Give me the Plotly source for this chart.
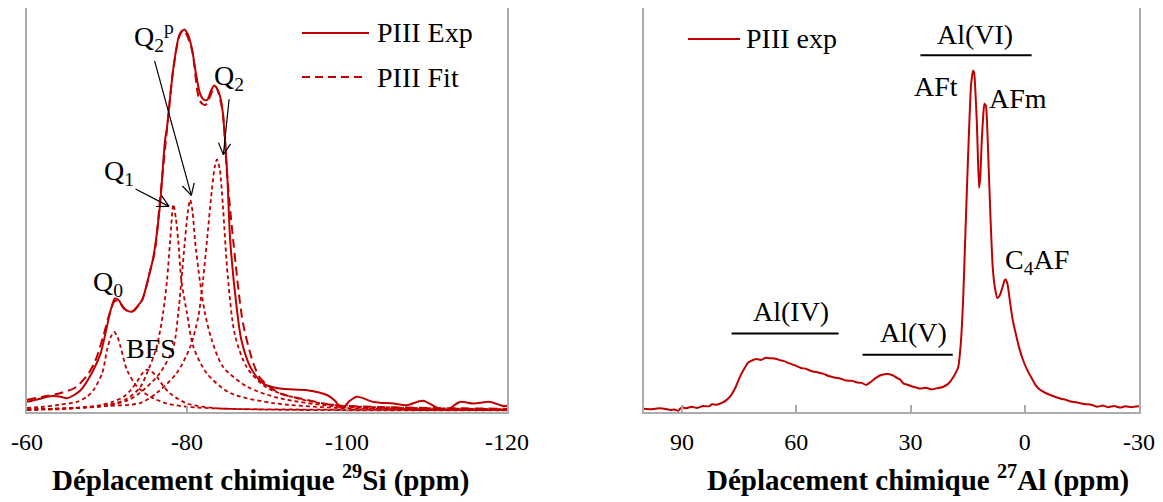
import math
import plotly.graph_objects as go

# ---------------- Data: 29Si (left) ----------------
si_exp_ppm = [-60, -61.5, -62.9, -64.2, -65, -66.7, -68.3, -69.2, -69.8, -70.5, -71.0, -71.5, -72.1, -73.1,
              -74.1, -74.4, -75.4, -75.8, -76.6, -77.25, -77.5, -78.3, -79.1, -79.7, -80.1, -80.6, -81.1, -81.6,
              -82.0, -82.5, -83.0, -83.4, -84.0, -84.4, -85.0, -85.4, -86.2, -86.8, -87.9, -89.5, -91.6, -95.0,
              -97.5, -98.5, -99.1, -99.5, -100.2, -101.2, -103.3, -105.8, -107.5, -109.5, -111.2, -112.5,
              -114.1, -115.8, -117.9, -119.5, -120]
si_exp_int = [2.5, 3.2, 3.9, 3.8, 3.4, 5.4, 10.4, 14.5, 19.4, 25.5, 28.1, 27.6, 25.6, 24.8,
              26.9, 27.7, 35.0, 38.4, 50.7, 67.2, 70.4, 85.2, 93.6, 94.7, 93.5, 90.1, 84.0, 79.0,
              77.5, 77.2, 79.5, 80.8, 79.0, 75.3, 60.0, 42.5, 26.0, 17.8, 11.2, 7.1, 5.8, 5.4,
              4.2, 2.8, 1.3, 1.0, 2.5, 3.8, 2.5, 2.1, 1.7, 2.8, 1.1, 0.5,
              2.5, 2.1, 2.5, 1.5, 1.5]

si_fit_ppm = [-60, -62, -64, -66, -67.5, -68.5, -69.5, -70.5, -71, -71.6, -72.5, -73.3, -74.4, -75.4, -76,
              -76.6, -77.5, -78.3, -79.1, -79.6, -80.6, -81.6, -82.3, -83.3, -83.6, -84.4, -85, -85.8, -87,
              -88.3, -89.1, -90, -91.6, -95, -98.3, -103, -110, -120]
si_fit_int = [3.0, 3.8, 4.6, 6.0, 9.0, 12.5, 18.5, 25.5, 27.5, 27.0, 25.0, 25.0, 27.8, 35.0, 40.0,
              52.0, 70.0, 85.0, 93.3, 94.5, 89.8, 77.0, 76.0, 80.0, 80.5, 75.0, 59.0, 42.0, 22.0,
              12.0, 8.5, 6.8, 4.6, 3.0, 1.7, 1.3, 1.0, 0.8]

q0_ppm = [-60, -62.1, -64, -66.25, -67.5, -68.3, -69.4, -70, -70.5, -70.9, -71.3, -71.7, -72.5, -73.75,
          -75.4, -77.5, -80, -85, -95, -108, -120]
q0_int = [1.0, 1.3, 1.8, 2.5, 3.8, 5.4, 9.6, 15.3, 18.7, 19.8, 18.6, 16.1, 10.4, 6.3,
          3.8, 2.1, 1.3, 0.8, 0.6, 0.5, 0.5]

bfs_ppm = [-60, -64.2, -67, -69.2, -70.7, -72.1, -73.0, -73.75, -74.4, -75.0, -75.6, -76.25, -77.0, -77.9,
           -80, -83.3, -90, -105, -120]
bfs_int = [0.5, 0.7, 1.1, 1.7, 2.5, 3.8, 5.5, 7.5, 9.5, 10.5, 10.0, 8.7, 6.5, 4.6,
           2.1, 1.0, 0.6, 0.4, 0.4]

q1_ppm = [-60, -66, -70, -72.5, -74.1, -75, -76.2, -77.0, -77.5, -77.9, -78.3, -78.6, -78.9, -79.3, -80,
          -80.8, -82.5, -85.4, -90.8, -99, -110, -120]
q1_int = [0.6, 1.0, 1.6, 3.3, 6.0, 9.6, 16.1, 24.4, 32.6, 42.5, 51.4, 48.0, 42.5, 32.6, 24.4,
          16.1, 9.5, 4.7, 2.2, 1.0, 0.7, 0.6]

q2p_ppm = [-60, -66, -70, -72.5, -74.1, -76.6, -78.3, -78.9, -79.3, -79.75, -80.1, -80.4, -80.7, -81.0,
           -81.6, -82.25, -83.1, -84.5, -87.5, -91.6, -99.1, -110, -120]
q2p_int = [0.6, 1.0, 1.7, 2.8, 4.7, 9.6, 16.1, 24.4, 32.6, 42.5, 49.5, 52.5, 49.5, 42.5,
           32.6, 24.4, 17.8, 11.2, 6.3, 3.4, 1.3, 0.8, 0.6]

q2_ppm = [-60, -66, -70, -74.1, -76.2, -78.7, -80.4, -81.4, -82.0, -82.5, -83.1, -83.5, -83.75, -84.1,
          -84.5, -85.1, -86, -87.5, -90, -95, -99.1, -108, -120]
q2_int = [0.6, 1.0, 1.5, 2.2, 4.7, 9.6, 16.1, 23.5, 32.6, 42.5, 54.8, 61.0, 62.5, 60.0,
          50.6, 33.5, 19.0, 11.0, 6.0, 2.8, 1.6, 1.0, 0.7]

si_ticks = [-60, -80, -100, -120]
si_tick_labels = ["-60", "-80", "-100", "-120"]

# ---------------- Data: 27Al (right) ----------------
al_ppm = [100, 98, 96, 94.6, 93, 92, 91, 90.1, 89, 87.5, 86, 84.5, 83, 82.1, 81, 79.4, 78.3, 77.1, 76,
          74.9, 73.8, 72.7, 71.5, 70.4, 69.3, 68, 66.8, 65.5, 64.2, 63.2, 62, 60.5, 58.8, 57.5, 56, 54.3,
          53, 51.5, 49.8, 48.5, 47, 45.3, 44, 42.8, 41.7, 40.5, 39.0, 37.5, 35.9, 34.5, 33.5, 32.8, 31.8,
          31, 29.5, 28.3, 27.4, 26, 24.5, 22.9, 21.5, 20.5, 19.8, 18.8, 17.5, 16.8, 16.2, 15.6, 15.0,
          14.5, 14.1, 13.6, 13.3, 13.0, 12.6, 12.3, 12.0, 11.7, 11.3, 10.9, 10.6, 10.2, 9.8, 9.5, 9.0,
          8.4, 7.8, 7.2, 6.5, 5.9, 5.3, 5.0, 4.5, 3.9, 3.2, 2.3, 1.5, 0.5, -0.6, -1.8, -2.9, -4.0, -5.5,
          -7.6, -9.5, -10.8, -12.1, -13.5, -15.5, -17.5, -19, -20.5, -21.9, -23.5, -25, -26.4, -28, -30]
al_int = [0.8, 0.7, 0.9, 0.8, 0.5, 0.6, 0.3, 1.2, 0.9, 1.3, 1.0, 1.5, 1.4, 1.9, 1.8, 2.3, 3.0, 4.2, 6.0,
          8.5, 10.5, 12.2, 12.8, 13.1, 12.9, 13.4, 13.3, 13.2, 12.8, 12.6, 12.1, 11.6, 10.9, 10.7, 10.1, 9.8,
          9.5, 8.9, 8.5, 8.3, 7.8, 7.7, 7.3, 7.2, 6.7, 7.4, 8.5, 9.2, 9.4, 9.0, 8.4, 8.1, 7.0,
          6.8, 6.3, 6.0, 5.8, 6.0, 5.6, 5.9, 6.2, 6.7, 7.3, 8.6, 11.0, 17.0, 27.4, 44.0, 60.4,
          73.0, 81.0, 84.5, 84.0, 80.0, 72.0, 63.0, 55.5, 58.0, 67.0, 73.5, 76.3, 75.8, 69.0, 61.0, 48.0,
          35.6, 30.5, 28.2, 29.0, 30.7, 32.6, 32.8, 31.5, 27.4, 23.0, 19.1, 16.0, 13.0, 10.5, 8.4, 6.6, 5.5, 4.7,
          3.9, 3.3, 3.0, 2.6, 2.4, 2.0, 1.8, 1.3, 1.6, 1.2, 1.5, 1.1, 1.4, 1.2, 1.4]

al_ticks = [90, 60, 30, 0, -30]
al_tick_labels = ["90", "60", "30", "0", "-30"]

# ---------------- Styling ----------------
RED = "#C00000"
GRID = "#ababab"
FONT = "Liberation Serif"
OFF = 8                      # browser body margin
W, H = 1163 - OFF, 502 - OFF

def px(x):
    return (x - OFF) / W

def py(y):
    return min(1.0, (H - (y - OFF)) / H)

fig = go.Figure()

comp_dash = "4px,3px"
for xs, ys in [(q0_ppm, q0_int), (bfs_ppm, bfs_int), (q1_ppm, q1_int), (q2p_ppm, q2p_int), (q2_ppm, q2_int)]:
    fig.add_trace(go.Scatter(x=xs, y=ys, mode="lines", xaxis="x", yaxis="y",
                             line=dict(color=RED, width=1.8, dash=comp_dash, shape="spline", smoothing=0.8),
                             showlegend=False, hoverinfo="skip"))
fig.add_trace(go.Scatter(x=si_fit_ppm, y=si_fit_int, mode="lines", xaxis="x", yaxis="y",
                         line=dict(color=RED, width=2, dash="9px,5px", shape="spline", smoothing=0.8),
                         showlegend=False))
fig.add_trace(go.Scatter(x=si_exp_ppm, y=si_exp_int, mode="lines", xaxis="x", yaxis="y",
                         line=dict(color=RED, width=2, shape="spline", smoothing=0.8),
                         showlegend=False))
fig.add_trace(go.Scatter(x=al_ppm, y=al_int, mode="lines", xaxis="x2", yaxis="y2",
                         line=dict(color=RED, width=2, shape="spline", smoothing=0.5),
                         showlegend=False))

axis_common = dict(showline=True, linecolor=GRID, linewidth=2, mirror=True, showgrid=False,
                   zeroline=False, automargin=False)
tickfont = dict(size=24, family=FONT, color="black")
fig.update_layout(
    width=W, height=H, margin=dict(l=0, r=0, t=0, b=0, autoexpand=False),
    paper_bgcolor="white", plot_bgcolor="white",
    font=dict(family=FONT, color="black"),
    xaxis=dict(domain=[px(27), px(507)], range=[-60, -120], tickvals=si_ticks, ticktext=si_tick_labels,
               ticks="inside", ticklen=6, tickcolor=GRID, tickwidth=1.5,
               tickfont=tickfont, ticklabelstandoff=7, anchor="y", **axis_common),
    yaxis=dict(domain=[py(412), py(8)], range=[0, 100], showticklabels=False, ticks="",
               anchor="x", **axis_common),
    xaxis2=dict(domain=[px(644), px(1139)], range=[100, -30], tickvals=al_ticks, ticktext=al_tick_labels,
                ticks="inside", ticklen=7, tickcolor=GRID, tickwidth=1.5,
                tickfont=tickfont, ticklabelstandoff=7, anchor="y2", **axis_common),
    yaxis2=dict(domain=[py(412), py(8)], range=[0, 100], showticklabels=False, ticks="",
                anchor="x2", **axis_common),
)

anns = []
shapes = []
LBL = dict(size=28, family=FONT, color="black")

# Left legend
shapes.append(dict(type="line", xref="paper", yref="paper", x0=px(302), x1=px(369), y0=py(33), y1=py(33),
                   line=dict(color=RED, width=2)))
shapes.append(dict(type="line", xref="paper", yref="paper", x0=px(302), x1=px(362), y0=py(77), y1=py(77),
                   line=dict(color=RED, width=2, dash="8px,5px")))
anns.append(dict(xref="paper", yref="paper", x=px(375), y=py(33), text="PIII Exp", showarrow=False,
                 xanchor="left", yanchor="middle", font=LBL))
anns.append(dict(xref="paper", yref="paper", x=px(375), y=py(77), text="PIII Fit", showarrow=False,
                 xanchor="left", yanchor="middle", font=LBL))

# Right legend
shapes.append(dict(type="line", xref="paper", yref="paper", x0=px(688), x1=px(740), y0=py(39), y1=py(39),
                   line=dict(color=RED, width=2)))
anns.append(dict(xref="paper", yref="paper", x=px(744), y=py(39), text="PIII exp", showarrow=False,
                 xanchor="left", yanchor="middle", font=LBL))

# Left peak labels
for txt, x, y in [("Q<sub>2</sub><sup>p</sup>", -75.9, 93.0), ("Q<sub>2</sub>", -85.3, 82.8),
                  ("Q<sub>1</sub>", -71.5, 59.2), ("Q<sub>0</sub>", -70.1, 31.8), ("BFS", -75.5, 15.7)]:
    anns.append(dict(xref="x", yref="y", x=x, y=y, text=txt, showarrow=False, font=LBL,
                     xanchor="center", yanchor="middle"))

# Arrows (tail -> head) with open V heads
PX_PER_PPM = 8.0     # left plot: 480 px / 60 ppm
PX_PER_UNIT = 4.04   # left plot: 404 px / 100 units
for (tx, ty), (hx, hy) in [((-75.95, 86.9), (-80.54, 53.6)), ((-85.26, 77.4), (-84.55, 63.7)),
                           ((-73.57, 55.2), (-77.75, 50.9))]:
    shapes.append(dict(type="line", xref="x", yref="y", x0=tx, y0=ty, x1=hx, y1=hy,
                       line=dict(color="black", width=1.2)))
    dxp = -(tx - hx) * PX_PER_PPM
    dyp = (ty - hy) * PX_PER_UNIT
    L = math.hypot(dxp, dyp)
    ux, uy = dxp / L, dyp / L
    for ang in (math.radians(28), -math.radians(28)):
        rx = ux * math.cos(ang) - uy * math.sin(ang)
        ry = ux * math.sin(ang) + uy * math.cos(ang)
        shapes.append(dict(type="line", xref="x", yref="y", xsizemode="pixel", ysizemode="pixel",
                           xanchor=hx, yanchor=hy, x0=0, y0=0, x1=rx * 13, y1=ry * 13,
                           line=dict(color="black", width=1.2)))

# Right labels
for txt, x, y in [("Al(VI)", 13.0, 93.4), ("AFt", 23.3, 80.6), ("AFm", 1.8, 77.7),
                  ("C<sub>4</sub>AF", -3.1, 37.3), ("Al(IV)", 61.4, 24.9), ("Al(V)", 29.2, 19.6)]:
    anns.append(dict(xref="x2", yref="y2", x=x, y=y, text=txt, showarrow=False, font=LBL,
                     xanchor="center", yanchor="middle"))
for x0, x1, y in [(27.4, -1.8, 88.3), (77.0, 48.9, 19.4), (42.6, 18.9, 14.2)]:
    shapes.append(dict(type="line", xref="x2", yref="y2", x0=x0, x1=x1, y0=y, y1=y,
                       line=dict(color="black", width=2)))

# Axis titles
TITLE = dict(size=29, family=FONT, color="black")
anns.append(dict(xref="paper", yref="paper", x=px(260), y=py(478),
                 text="<b>Déplacement chimique <sup>29</sup>Si (ppm)</b>", showarrow=False,
                 xanchor="center", yanchor="middle", font=TITLE))
anns.append(dict(xref="paper", yref="paper", x=px(918), y=py(478),
                 text="<b>Déplacement chimique <sup>27</sup>Al (ppm)</b>", showarrow=False,
                 xanchor="center", yanchor="middle", font=TITLE))

fig.update_layout(annotations=anns, shapes=shapes)
fig.write_html("out.html")
